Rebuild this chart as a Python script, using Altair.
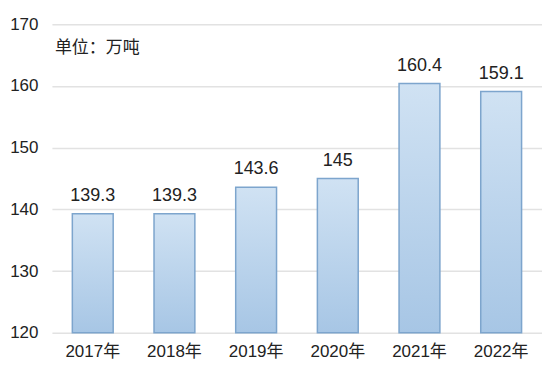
import altair as alt
import pandas as pd

years = ["2017年", "2018年", "2019年", "2020年", "2021年", "2022年"]
values = [139.3, 139.3, 143.6, 145, 160.4, 159.1]
labels = ["139.3", "139.3", "143.6", "145", "160.4", "159.1"]
y_ticks = [120, 130, 140, 150, 160, 170]
unit_text = "单位：万吨"

df = pd.DataFrame({"year": years, "value": values, "label": labels})
FONT = "Liberation Sans, Noto Sans CJK SC, sans-serif"

x = alt.X("year:N", sort=years, title=None,
          scale=alt.Scale(paddingInner=0.5, paddingOuter=0.25),
          axis=alt.Axis(labelAngle=0, labelFontSize=17, labelColor="#222", labelFont=FONT,
                        domain=False, ticks=False, labelPadding=11))
y = alt.Y("value:Q", title=None,
          scale=alt.Scale(domain=[120, 170], zero=False, nice=False),
          axis=alt.Axis(values=y_ticks, labelFontSize=17, labelColor="#222", labelFont=FONT,
                        domain=False, ticks=False, labelPadding=14,
                        gridColor="#e2e2e2", gridWidth=1.5))

bars = alt.Chart(df).mark_bar(
    color=alt.Gradient(gradient="linear", x1=0, y1=0, x2=0, y2=1,
                       stops=[alt.GradientStop(color="#d0e2f3", offset=0),
                              alt.GradientStop(color="#a7c6e5", offset=1)]),
    stroke="#7da5cd", strokeWidth=1.5
).encode(x=x, y=y, y2=alt.datum(120))

text = alt.Chart(df).mark_text(baseline="bottom", dy=-9, fontSize=18, font=FONT, color="#222").encode(
    x=alt.X("year:N", sort=years), y="value:Q", text="label:N")

unit = alt.Chart(pd.DataFrame({"t": [unit_text]})).mark_text(
    align="left", baseline="middle", fontSize=17, font=FONT, color="#222"
).encode(x=alt.value(3), y=alt.value(24), text="t:N")

chart = alt.layer(bars, text, unit).properties(
    width=491, height=309,
    autosize=alt.AutoSizeParams(type="none"),
    padding={"left": 44, "top": 16, "right": 0, "bottom": 40},
).configure_view(stroke=None)

chart.save("out.html", embed_options={"renderer": "svg", "actions": False})
